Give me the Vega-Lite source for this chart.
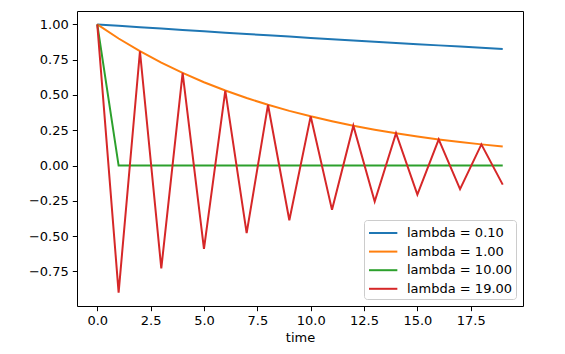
{
  "$schema": "https://vega.github.io/schema/vega-lite/v6.json",
  "width": 446,
  "height": 295,
  "autosize": {"type": "none"},
  "padding": {"left": 77, "top": 11, "right": 42, "bottom": 48},
  "background": "white",
  "config": {
    "font": "DejaVu Sans",
    "view": {"stroke": "black", "strokeWidth": 1},
    "axis": {
      "domain": false,
      "grid": false,
      "tickColor": "black",
      "tickSize": 4.7,
      "tickWidth": 1,
      "labelColor": "black",
      "labelFont": "DejaVu Sans",
      "labelFontSize": 13,
      "labelPadding": 4,
      "titleFont": "DejaVu Sans",
      "titleFontSize": 13,
      "titleFontWeight": "normal",
      "titleColor": "black"
    },
    "legend": {
      "labelFont": "DejaVu Sans",
      "labelFontSize": 13,
      "labelColor": "black"
    }
  },
  "datasets": {
    "rows": [
      {"t": 0, "s": "lambda = 0.10", "y": 1},
      {"t": 1, "s": "lambda = 0.10", "y": 0.99},
      {"t": 2, "s": "lambda = 0.10", "y": 0.9801},
      {"t": 3, "s": "lambda = 0.10", "y": 0.970299},
      {"t": 4, "s": "lambda = 0.10", "y": 0.960596},
      {"t": 5, "s": "lambda = 0.10", "y": 0.95099},
      {"t": 6, "s": "lambda = 0.10", "y": 0.94148},
      {"t": 7, "s": "lambda = 0.10", "y": 0.932065},
      {"t": 8, "s": "lambda = 0.10", "y": 0.922745},
      {"t": 9, "s": "lambda = 0.10", "y": 0.913517},
      {"t": 10, "s": "lambda = 0.10", "y": 0.904382},
      {"t": 11, "s": "lambda = 0.10", "y": 0.895338},
      {"t": 12, "s": "lambda = 0.10", "y": 0.886385},
      {"t": 13, "s": "lambda = 0.10", "y": 0.877521},
      {"t": 14, "s": "lambda = 0.10", "y": 0.868746},
      {"t": 15, "s": "lambda = 0.10", "y": 0.860058},
      {"t": 16, "s": "lambda = 0.10", "y": 0.851458},
      {"t": 17, "s": "lambda = 0.10", "y": 0.842943},
      {"t": 18, "s": "lambda = 0.10", "y": 0.834514},
      {"t": 19, "s": "lambda = 0.10", "y": 0.826169},
      {"t": 0, "s": "lambda = 1.00", "y": 1},
      {"t": 1, "s": "lambda = 1.00", "y": 0.9},
      {"t": 2, "s": "lambda = 1.00", "y": 0.81},
      {"t": 3, "s": "lambda = 1.00", "y": 0.729},
      {"t": 4, "s": "lambda = 1.00", "y": 0.6561},
      {"t": 5, "s": "lambda = 1.00", "y": 0.59049},
      {"t": 6, "s": "lambda = 1.00", "y": 0.531441},
      {"t": 7, "s": "lambda = 1.00", "y": 0.478297},
      {"t": 8, "s": "lambda = 1.00", "y": 0.430467},
      {"t": 9, "s": "lambda = 1.00", "y": 0.38742},
      {"t": 10, "s": "lambda = 1.00", "y": 0.348678},
      {"t": 11, "s": "lambda = 1.00", "y": 0.313811},
      {"t": 12, "s": "lambda = 1.00", "y": 0.28243},
      {"t": 13, "s": "lambda = 1.00", "y": 0.254187},
      {"t": 14, "s": "lambda = 1.00", "y": 0.228768},
      {"t": 15, "s": "lambda = 1.00", "y": 0.205891},
      {"t": 16, "s": "lambda = 1.00", "y": 0.185302},
      {"t": 17, "s": "lambda = 1.00", "y": 0.166772},
      {"t": 18, "s": "lambda = 1.00", "y": 0.150095},
      {"t": 19, "s": "lambda = 1.00", "y": 0.135085},
      {"t": 0, "s": "lambda = 10.00", "y": 1},
      {"t": 1, "s": "lambda = 10.00", "y": 0},
      {"t": 2, "s": "lambda = 10.00", "y": 0},
      {"t": 3, "s": "lambda = 10.00", "y": 0},
      {"t": 4, "s": "lambda = 10.00", "y": 0},
      {"t": 5, "s": "lambda = 10.00", "y": 0},
      {"t": 6, "s": "lambda = 10.00", "y": 0},
      {"t": 7, "s": "lambda = 10.00", "y": 0},
      {"t": 8, "s": "lambda = 10.00", "y": 0},
      {"t": 9, "s": "lambda = 10.00", "y": 0},
      {"t": 10, "s": "lambda = 10.00", "y": 0},
      {"t": 11, "s": "lambda = 10.00", "y": 0},
      {"t": 12, "s": "lambda = 10.00", "y": 0},
      {"t": 13, "s": "lambda = 10.00", "y": 0},
      {"t": 14, "s": "lambda = 10.00", "y": 0},
      {"t": 15, "s": "lambda = 10.00", "y": 0},
      {"t": 16, "s": "lambda = 10.00", "y": 0},
      {"t": 17, "s": "lambda = 10.00", "y": 0},
      {"t": 18, "s": "lambda = 10.00", "y": 0},
      {"t": 19, "s": "lambda = 10.00", "y": 0},
      {"t": 0, "s": "lambda = 19.00", "y": 1},
      {"t": 1, "s": "lambda = 19.00", "y": -0.9},
      {"t": 2, "s": "lambda = 19.00", "y": 0.81},
      {"t": 3, "s": "lambda = 19.00", "y": -0.729},
      {"t": 4, "s": "lambda = 19.00", "y": 0.6561},
      {"t": 5, "s": "lambda = 19.00", "y": -0.59049},
      {"t": 6, "s": "lambda = 19.00", "y": 0.531441},
      {"t": 7, "s": "lambda = 19.00", "y": -0.478297},
      {"t": 8, "s": "lambda = 19.00", "y": 0.430467},
      {"t": 9, "s": "lambda = 19.00", "y": -0.38742},
      {"t": 10, "s": "lambda = 19.00", "y": 0.348678},
      {"t": 11, "s": "lambda = 19.00", "y": -0.313811},
      {"t": 12, "s": "lambda = 19.00", "y": 0.28243},
      {"t": 13, "s": "lambda = 19.00", "y": -0.254187},
      {"t": 14, "s": "lambda = 19.00", "y": 0.228768},
      {"t": 15, "s": "lambda = 19.00", "y": -0.205891},
      {"t": 16, "s": "lambda = 19.00", "y": 0.185302},
      {"t": 17, "s": "lambda = 19.00", "y": -0.166772},
      {"t": 18, "s": "lambda = 19.00", "y": 0.150095},
      {"t": 19, "s": "lambda = 19.00", "y": -0.135085}
    ]
  },
  "data": {"name": "rows"},
  "mark": {"type": "line", "strokeWidth": 2, "clip": true},
  "encoding": {
    "x": {
      "field": "t",
      "type": "quantitative",
      "title": "time",
      "scale": {"domain": [-0.95, 19.95], "nice": false, "zero": false},
      "axis": {"values": [0, 2.5, 5, 7.5, 10, 12.5, 15, 17.5], "format": ".1f", "titlePadding": 4}
    },
    "y": {
      "field": "y",
      "type": "quantitative",
      "title": null,
      "scale": {"domain": [-0.995, 1.095], "nice": false, "zero": false},
      "axis": {"values": [-0.75, -0.5, -0.25, 0, 0.25, 0.5, 0.75, 1], "format": ".2f"}
    },
    "color": {
      "field": "s",
      "type": "nominal",
      "scale": {
        "domain": ["lambda = 0.10", "lambda = 1.00", "lambda = 10.00", "lambda = 19.00"],
        "range": ["#1f77b4", "#ff7f0e", "#2ca02c", "#d62728"]
      },
      "legend": {
        "title": null,
        "orient": "bottom-right",
        "offset": 7,
        "fillColor": "white",
        "strokeColor": "#cccccc",
        "cornerRadius": 3,
        "padding": 3,
        "symbolType": "M-0.89,0H2.26",
        "symbolSize": 324,
        "symbolStrokeWidth": 2,
        "symbolFillColor": "transparent",
        "labelOffset": 20,
        "rowPadding": 1.6
      }
    }
  }
}
